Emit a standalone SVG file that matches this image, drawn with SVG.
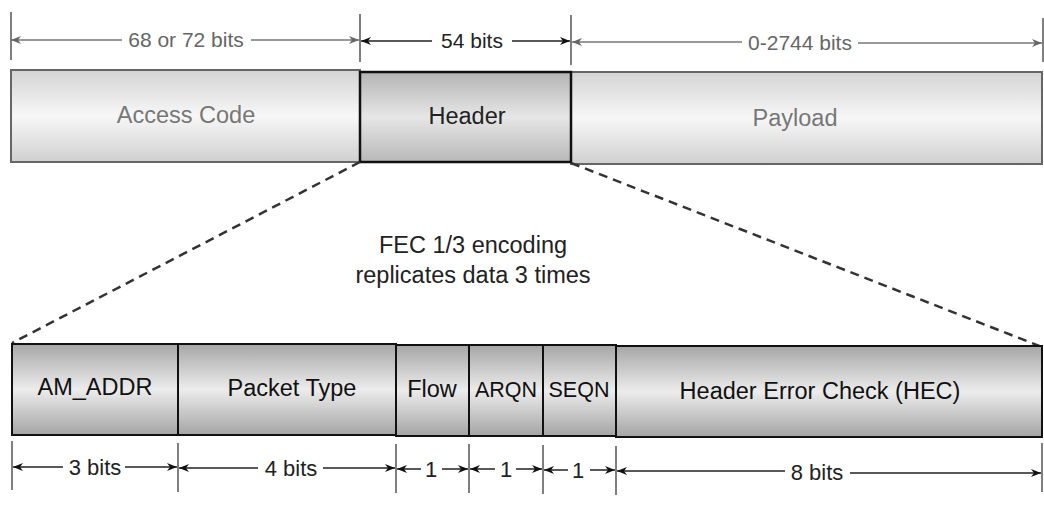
<svg xmlns="http://www.w3.org/2000/svg" width="1044" height="507" viewBox="0 0 1044 507">
<style>
.t{font-family:"Liberation Sans",Arial,sans-serif;text-anchor:middle}
.dimg{stroke:#777;stroke-width:1.5;fill:none}
.dimk{stroke:#222;stroke-width:1.5;fill:none}
.tick{stroke:#555;stroke-width:1.5}
.cell{stroke:#111;stroke-width:2}
</style>
<defs>
<linearGradient id="gLight" x1="0" y1="0" x2="0" y2="1">
<stop offset="0" stop-color="#d4d4d4"/><stop offset="0.5" stop-color="#f7f7f7"/><stop offset="1" stop-color="#d0d0d0"/>
</linearGradient>
<linearGradient id="gHead" x1="0" y1="0" x2="0" y2="1">
<stop offset="0" stop-color="#b4b4b4"/><stop offset="0.5" stop-color="#e6e6e6"/><stop offset="1" stop-color="#b8b8b8"/>
</linearGradient>
<linearGradient id="gCell" x1="0" y1="0" x2="0" y2="1">
<stop offset="0" stop-color="#a6a6a6"/><stop offset="0.5" stop-color="#ececec"/><stop offset="1" stop-color="#a4a4a4"/>
</linearGradient>
<marker id="ak" viewBox="0 0 10 8" refX="10" refY="4" markerWidth="10" markerHeight="8" markerUnits="userSpaceOnUse" orient="auto-start-reverse">
<path d="M0,0 L10,4 L0,8 L3,4 Z" fill="#111"/>
</marker>
<marker id="ag" viewBox="0 0 10 8" refX="10" refY="4" markerWidth="10" markerHeight="8" markerUnits="userSpaceOnUse" orient="auto-start-reverse">
<path d="M0,0 L10,4 L0,8 L3,4 Z" fill="#666"/>
</marker>
</defs>

<g id="access-code">
<rect x="11" y="70" width="349" height="92" fill="url(#gLight)" stroke="#666" stroke-width="2"/>
<text class="t" x="186" y="123" font-size="23.5" fill="#777">Access Code</text>
</g>
<g id="payload">
<rect x="571" y="72" width="471" height="92" fill="url(#gLight)" stroke="#666" stroke-width="2"/>
<text class="t" x="795" y="126" font-size="23.5" fill="#777">Payload</text>
</g>
<g id="header">
<rect x="360" y="72" width="211" height="90" fill="url(#gHead)" stroke="#111" stroke-width="2.5"/>
<text class="t" x="467" y="124" font-size="23.5" fill="#222">Header</text>
</g>

<g id="top-dimensions">
<line class="tick" x1="11" y1="12" x2="11" y2="60"/>
<line class="tick" x1="360" y1="14" x2="360" y2="62"/>
<line class="tick" x1="571" y1="15" x2="571" y2="65"/>
<line class="tick" x1="1043" y1="18" x2="1043" y2="62"/>
<line class="dimg" x1="11" y1="40" x2="122" y2="40" marker-start="url(#ag)"/>
<line class="dimg" x1="251" y1="40" x2="359" y2="40" marker-end="url(#ag)"/>
<line class="dimk" x1="361" y1="41" x2="432" y2="41" marker-start="url(#ak)"/>
<line class="dimk" x1="512" y1="41" x2="570" y2="41" marker-end="url(#ak)"/>
<line class="dimg" x1="572" y1="42" x2="742" y2="42" marker-start="url(#ag)"/>
<line class="dimg" x1="858" y1="43" x2="1042" y2="43" marker-end="url(#ag)"/>
<text class="t" x="186" y="47" font-size="21" fill="#666">68 or 72 bits</text>
<text class="t" x="472" y="48" font-size="21" fill="#222">54 bits</text>
<text class="t" x="800" y="50" font-size="21" fill="#666">0-2744 bits</text>
</g>

<g id="connectors">
<line x1="360" y1="162" x2="12" y2="343" stroke="#333" stroke-width="2.5" stroke-dasharray="9,6"/>
<line x1="571" y1="163" x2="1042" y2="347" stroke="#333" stroke-width="2.5" stroke-dasharray="9,6"/>
</g>

<g id="fec-note">
<text class="t" x="473" y="253" font-size="23.5" fill="#222">FEC 1/3 encoding</text>
<text class="t" x="473" y="283" font-size="23.5" fill="#222">replicates data 3 times</text>
</g>

<g id="am-addr">
<rect class="cell" x="12" y="344" width="166" height="91" fill="url(#gCell)"/>
<text class="t" x="95" y="395" font-size="23.5" fill="#111">AM_ADDR</text>
</g>
<g id="packet-type">
<rect class="cell" x="178" y="344" width="218" height="91" fill="url(#gCell)"/>
<text class="t" x="292" y="396" font-size="23.5" fill="#111">Packet Type</text>
</g>
<g id="flow">
<rect class="cell" x="396" y="345" width="73" height="91" fill="url(#gCell)"/>
<text class="t" x="432" y="397" font-size="23.5" fill="#111">Flow</text>
</g>
<g id="arqn">
<rect class="cell" x="469" y="345" width="74" height="91" fill="url(#gCell)"/>
<text class="t" x="506" y="397" font-size="21.5" fill="#111">ARQN</text>
</g>
<g id="seqn">
<rect class="cell" x="543" y="345" width="73" height="91" fill="url(#gCell)"/>
<text class="t" x="579" y="397" font-size="21.5" fill="#111">SEQN</text>
</g>
<g id="hec">
<rect class="cell" x="616" y="346" width="426" height="91" fill="url(#gCell)"/>
<text class="t" x="820" y="399" font-size="23.5" fill="#111">Header Error Check (HEC)</text>
</g>

<g id="bottom-dimensions">
<line class="tick" x1="12" y1="441" x2="12" y2="490"/>
<line class="tick" x1="178" y1="443" x2="178" y2="492"/>
<line class="tick" x1="396" y1="444" x2="396" y2="493"/>
<line class="tick" x1="469" y1="444" x2="469" y2="493"/>
<line class="tick" x1="543" y1="445" x2="543" y2="494"/>
<line class="tick" x1="616" y1="446" x2="616" y2="495"/>
<line class="tick" x1="1042" y1="443" x2="1042" y2="492"/>
<line class="dimk" x1="13" y1="467" x2="63" y2="467" marker-start="url(#ak)"/>
<line class="dimk" x1="125" y1="467" x2="177" y2="467" marker-end="url(#ak)"/>
<line class="dimk" x1="179" y1="468" x2="258" y2="468" marker-start="url(#ak)"/>
<line class="dimk" x1="323" y1="468" x2="395" y2="468" marker-end="url(#ak)"/>
<line class="dimk" x1="397" y1="469" x2="421" y2="469" marker-start="url(#ak)"/>
<line class="dimk" x1="442" y1="469" x2="468" y2="469" marker-end="url(#ak)"/>
<line class="dimk" x1="470" y1="469" x2="495" y2="469" marker-start="url(#ak)"/>
<line class="dimk" x1="516" y1="469" x2="542" y2="469" marker-end="url(#ak)"/>
<line class="dimk" x1="544" y1="470" x2="568" y2="470" marker-start="url(#ak)"/>
<line class="dimk" x1="590" y1="470" x2="615" y2="470" marker-end="url(#ak)"/>
<line class="dimk" x1="617" y1="471" x2="785" y2="471" marker-start="url(#ak)"/>
<line class="dimk" x1="850" y1="473" x2="1041" y2="473" marker-end="url(#ak)"/>
<text class="t" x="95" y="475" font-size="22" fill="#222">3 bits</text>
<text class="t" x="291" y="476" font-size="22" fill="#222">4 bits</text>
<text class="t" x="431" y="477" font-size="22" fill="#222">1</text>
<text class="t" x="506" y="477" font-size="22" fill="#222">1</text>
<text class="t" x="578" y="478" font-size="22" fill="#222">1</text>
<text class="t" x="817" y="480" font-size="22" fill="#222">8 bits</text>
</g>
</svg>
